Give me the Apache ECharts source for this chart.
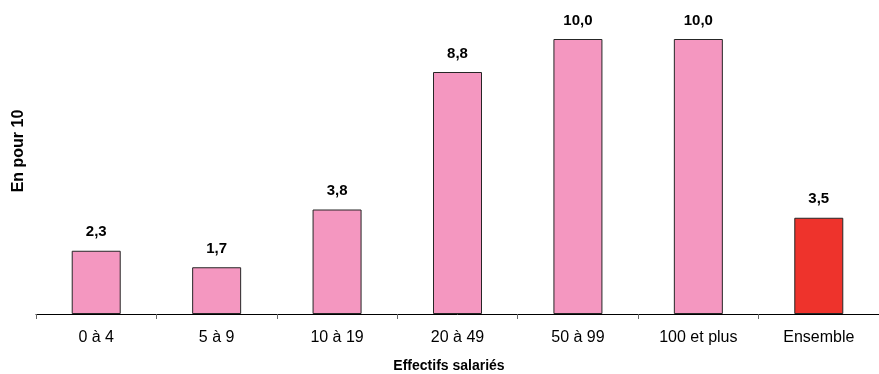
<!DOCTYPE html>
<html>
<head>
<meta charset="utf-8">
<script src="https://cdn.jsdelivr.net/npm/echarts@6/dist/echarts.min.js"></script>
<style>
  html, body { margin: 0; padding: 0; background: #fff; }
  #chart { width: 879px; height: 374px; }
</style>
</head>
<body>
<div id="chart"></div>
<script>
// Workforce size classes and their share (per ten)
var categories = ['0 à 4', '5 à 9', '10 à 19', '20 à 49', '50 à 99', '100 et plus', 'Ensemble'];
var values = [2.3, 1.7, 3.8, 8.8, 10.0, 10.0, 3.5];
var xTitle = 'Effectifs salariés';
var yTitle = 'En pour 10';

var PINK = '#F497C0';
var RED = '#EE332C';
var FONT = 'Liberation Sans, Arial, sans-serif';

var chart = echarts.init(document.getElementById('chart'), null, { renderer: 'canvas' });

var barData = values.map(function (v, i) {
  return {
    value: v,
    itemStyle: { color: categories[i] === 'Ensemble' ? RED : PINK }
  };
});

chart.setOption({
  animation: false,
  backgroundColor: '#ffffff',
  grid: { left: 36, top: 11.5, width: 850, height: 302.5, containLabel: false },
  xAxis: {
    type: 'category',
    data: categories,
    boundaryGap: true,
    axisLine: { show: true, lineStyle: { color: '#000', width: 1 } },
    axisTick: { show: true, alignWithLabel: false, length: 5, lineStyle: { color: '#666' } },
    axisLabel: { color: '#000', fontFamily: FONT, fontSize: 16, margin: 16 }
  },
  yAxis: {
    type: 'value',
    min: 0,
    max: 11,
    show: false,
    splitLine: { show: false }
  },
  series: [{
    type: 'bar',
    data: barData,
    barWidth: 49,
    itemStyle: { borderColor: '#262626', borderWidth: 1 },
    label: {
      show: true,
      position: 'top',
      distance: 11,
      color: '#000',
      fontFamily: FONT,
      fontWeight: 'bold',
      fontSize: 15,
      formatter: function (p) { return p.value.toFixed(1).replace('.', ','); }
    }
  }],
  graphic: [
    {
      type: 'text',
      x: 449, y: 366,
      style: {
        text: xTitle,
        fill: '#000', font: 'bold 14px ' + FONT,
        textAlign: 'center', textVerticalAlign: 'middle'
      }
    },
    {
      type: 'text',
      x: 19, y: 151,
      rotation: Math.PI / 2,
      style: {
        text: yTitle,
        fill: '#000', font: 'bold 16px ' + FONT,
        textAlign: 'center', textVerticalAlign: 'middle'
      }
    }
  ]
});
</script>
</body>
</html>
